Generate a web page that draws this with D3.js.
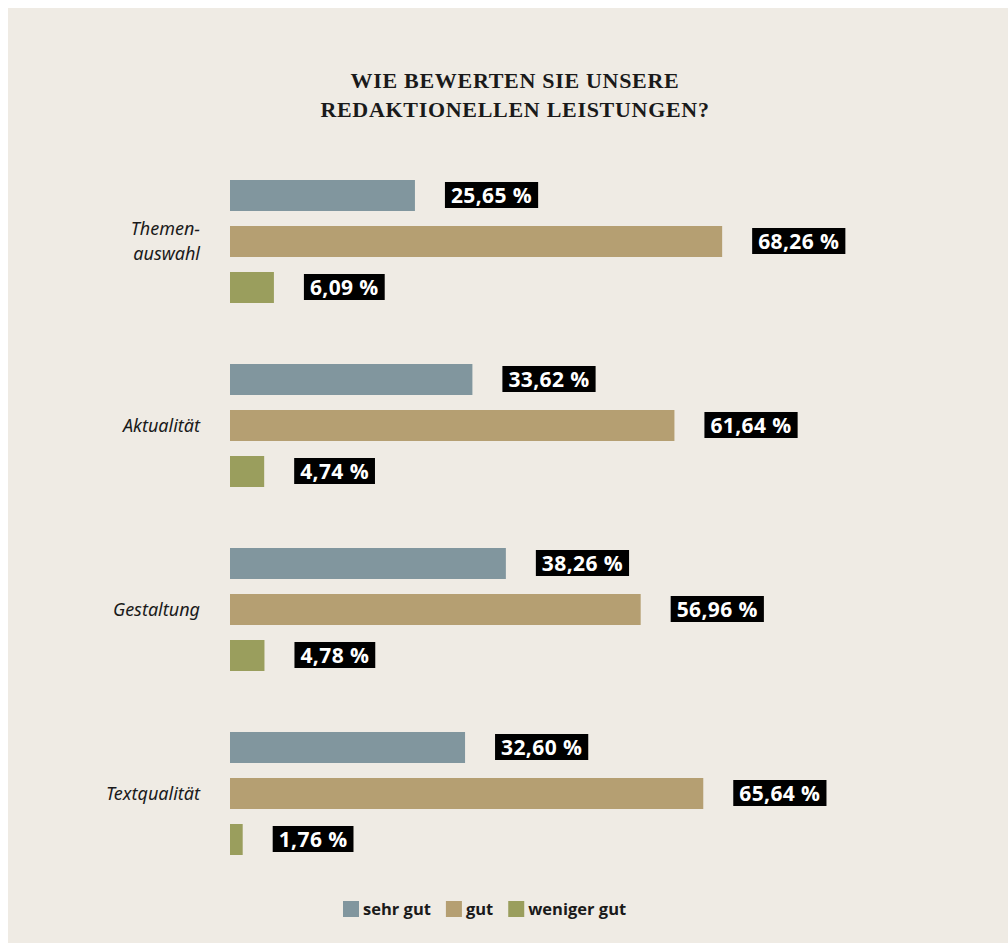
<!DOCTYPE html>
<html>
<head>
<meta charset="utf-8">
<script src="https://cdn.jsdelivr.net/npm/d3@7"></script>
<style>
  body { margin: 0; background: #ffffff; }
</style>
</head>
<body>
<svg id="chart" width="1008" height="943"></svg>
<script>
const categories = [["Themen-", "auswahl"], ["Aktualität"], ["Gestaltung"], ["Textqualität"]];
const series = ["sehr gut", "gut", "weniger gut"];
const sehrGut = [25.65, 33.62, 38.26, 32.60];
const gut = [68.26, 61.64, 56.96, 65.64];
const wenigerGut = [6.09, 4.74, 4.78, 1.76];
const colors = ["#81969e", "#b59f72", "#9a9e5d"];
const titleLines = ["WIE BEWERTEN SIE UNSERE", "REDAKTIONELLEN LEISTUNGEN?"];

const values = [sehrGut, gut, wenigerGut];

const svg = d3.select("svg#chart");

// beige panel
svg.append("rect")
  .attr("x", 8).attr("y", 8)
  .attr("width", 1000).attr("height", 935)
  .attr("fill", "#efebe4");

// title
svg.append("g").selectAll("text")
  .data(titleLines)
  .join("text")
  .attr("x", 515)
  .attr("y", (d, i) => 88 + i * 29)
  .attr("text-anchor", "middle")
  .style("font", "bold 22px 'Liberation Serif', serif")
  .style("letter-spacing", "0.7px")
  .style("fill", "#1a1a1a")
  .text(d => d);

const catIdx = categories.map((d, i) => i);

const y = d3.scaleBand().domain(catIdx).range([180, 916]).padding(0).align(0);
const yInner = d3.scaleBand().domain(series).range([0, 123]).paddingInner(15 / 46).paddingOuter(0);
const x = d3.scaleLinear().domain([0, 100]).range([230, 951]);

const groups = svg.append("g").selectAll("g")
  .data(catIdx)
  .join("g")
  .attr("transform", i => `translate(0,${y(i)})`);

// category labels, centred on the "gut" bar
groups.append("text")
  .attr("x", 200)
  .attr("y", 0)
  .attr("text-anchor", "end")
  .style("font", "italic 18px 'Noto Sans', sans-serif")
  .style("fill", "#1a1a1a")
  .each(function (i) {
    const lines = categories[i];
    const mid = yInner("gut") + yInner.bandwidth() / 2;
    const t = d3.select(this);
    lines.forEach((l, k) => {
      t.append("tspan")
        .attr("x", 200)
        .attr("y", mid + 6 + (k - (lines.length - 1) / 2) * 25)
        .text(l);
    });
  });

groups.each(function (i) {
  const g = d3.select(this);
  series.forEach((s, k) => {
    const v = values[k][i];
    const by = yInner(s);
    g.append("rect")
      .attr("x", x(0))
      .attr("y", by)
      .attr("width", x(v) - x(0))
      .attr("height", yInner.bandwidth())
      .attr("fill", colors[k]);

    const lbl = g.append("g");
    const box = lbl.append("rect")
      .attr("x", x(v) + 30)
      .attr("y", by + 2)
      .attr("height", 26)
      .attr("fill", "#000");
    const txt = lbl.append("text")
      .attr("x", x(v) + 36)
      .attr("y", by + 23)
      .style("font", "bold 21px 'Open Sans', sans-serif")
      .style("letter-spacing", "0.4px")
      .style("fill", "#fff")
      .text(v.toFixed(2).replace(".", ",") + " %");
    box.attr("width", txt.node().getComputedTextLength() + 12);
  });
});

// legend
const legend = svg.append("g").attr("transform", "translate(343,901)");
let lx = 0;
series.forEach((s, k) => {
  legend.append("rect")
    .attr("x", lx).attr("y", 0)
    .attr("width", 16).attr("height", 16)
    .attr("fill", colors[k]);
  const t = legend.append("text")
    .attr("x", lx + 20)
    .attr("y", 14)
    .style("font", "bold 16.5px 'Open Sans', sans-serif")
    .style("fill", "#1a1a1a")
    .text(s);
  lx += 20 + t.node().getComputedTextLength() + 15;
});
</script>
</body>
</html>
